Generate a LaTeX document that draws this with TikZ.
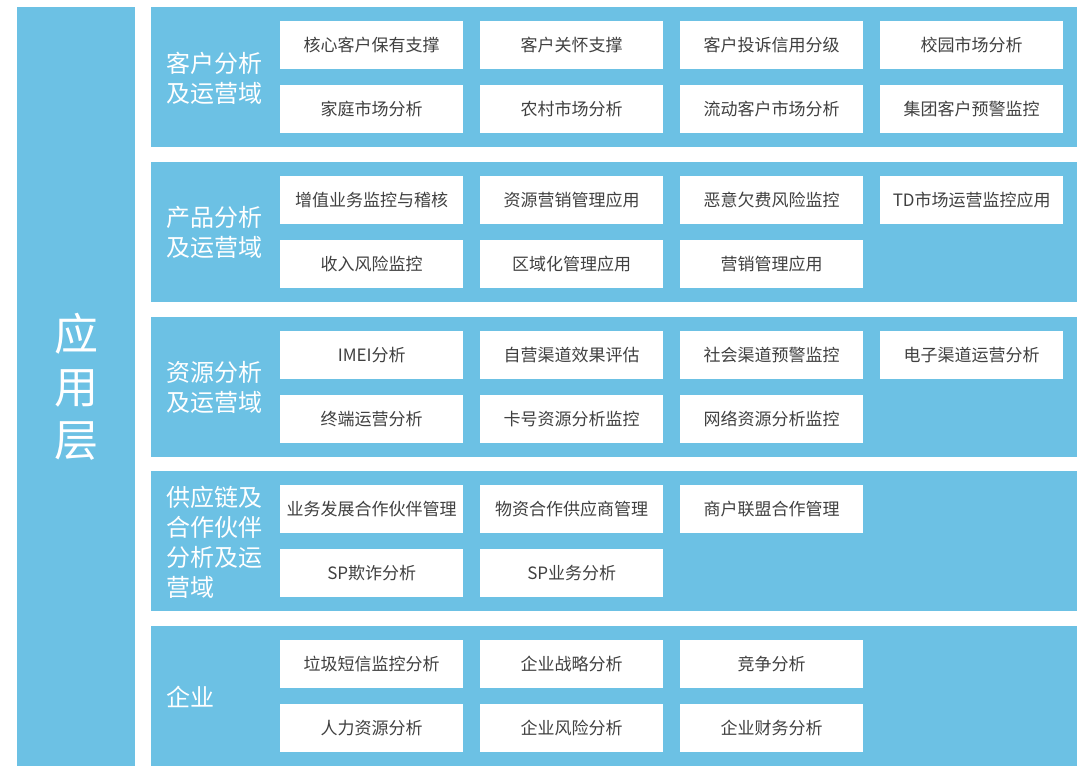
\documentclass[tikz,border=0pt]{standalone}
\usepackage{fontspec}
\setmainfont{Noto Sans CJK SC}
\definecolor{domainblue}{RGB}{108,193,228}
\definecolor{boxtext}{RGB}{64,64,64}

\begin{document}
\begin{tikzpicture}[x=1pt, y=-1pt,
    panel/.style={fill=domainblue, anchor=north west, inner sep=0pt,
      minimum width=926pt, minimum height=140pt},
    box/.style={fill=white, anchor=north west, inner sep=0pt,
      minimum width=183pt, minimum height=48pt, text=boxtext,
      font=\fontsize{17}{20}\selectfont},
    caption/.style={anchor=west, align=left, text=white, inner sep=0pt,
      font=\fontsize{24}{30}\selectfont}]

    \useasboundingbox (0,0) rectangle (1090,783);

    % linke Spalte
    \node[fill=domainblue, anchor=north west, inner sep=0pt,
      minimum width=118pt, minimum height=759pt] (layer) at (17,7) {};
    \node[align=center, text=white, font=\fontsize{44}{53}\selectfont]
      (layername) at (layer.center) {应\\用\\层};

    % Bereiche
    \node[panel] (p1) at (151,7) {};
    \node[panel] (p2) at (151,161.75) {};
    \node[panel] (p3) at (151,316.5) {};
    \node[panel] (p4) at (151,471.25) {};
    \node[panel] (p5) at (151,626) {};

    % Bereichsnamen
    \node[caption] (c1) at (166,78) {客户分析\\及运营域};
    \node[caption] (c2) at (166,232.75) {产品分析\\及运营域};
    \node[caption] (c3) at (166,387.5) {资源分析\\及运营域};
    \node[caption] (c4) at (166,542.25) {供应链及\\合作伙伴\\分析及运\\营域};
    \node[caption] (c5) at (166,697) {企业};

    % Kästchen Bereich 1
    \foreach \c/\t in {0/核心客户保有支撑, 1/客户关怀支撑, 2/客户投诉信用分级, 3/校园市场分析}
    \node[box] (a\c) at (280+200*\c,21) {\t};
    \foreach \c/\t in {0/家庭市场分析, 1/农村市场分析, 2/流动客户市场分析, 3/集团客户预警监控}
    \node[box] (b\c) at (280+200*\c,85) {\t};

    % Kästchen Bereich 2
    \foreach \c/\t in {0/增值业务监控与稽核, 1/资源营销管理应用, 2/恶意欠费风险监控, 3/TD市场运营监控应用}
    \node[box] (d\c) at (280+200*\c,175.75) {\t};
    \foreach \c/\t in {0/收入风险监控, 1/区域化管理应用, 2/营销管理应用}
    \node[box] (e\c) at (280+200*\c,239.75) {\t};

    % Kästchen Bereich 3
    \foreach \c/\t in {0/IMEI分析, 1/自营渠道效果评估, 2/社会渠道预警监控, 3/电子渠道运营分析}
    \node[box] (f\c) at (280+200*\c,330.5) {\t};
    \foreach \c/\t in {0/终端运营分析, 1/卡号资源分析监控, 2/网络资源分析监控}
    \node[box] (g\c) at (280+200*\c,394.5) {\t};

    % Kästchen Bereich 4
    \foreach \c/\t in {0/业务发展合作伙伴管理, 1/物资合作供应商管理, 2/商户联盟合作管理}
    \node[box] (h\c) at (280+200*\c,485.25) {\t};
    \foreach \c/\t in {0/SP欺诈分析, 1/SP业务分析}
    \node[box] (i\c) at (280+200*\c,549.25) {\t};

    % Kästchen Bereich 5
    \foreach \c/\t in {0/垃圾短信监控分析, 1/企业战略分析, 2/竞争分析}
    \node[box] (j\c) at (280+200*\c,640) {\t};
    \foreach \c/\t in {0/人力资源分析, 1/企业风险分析, 2/企业财务分析}
    \node[box] (k\c) at (280+200*\c,704) {\t};

\end{tikzpicture}
\end{document}
